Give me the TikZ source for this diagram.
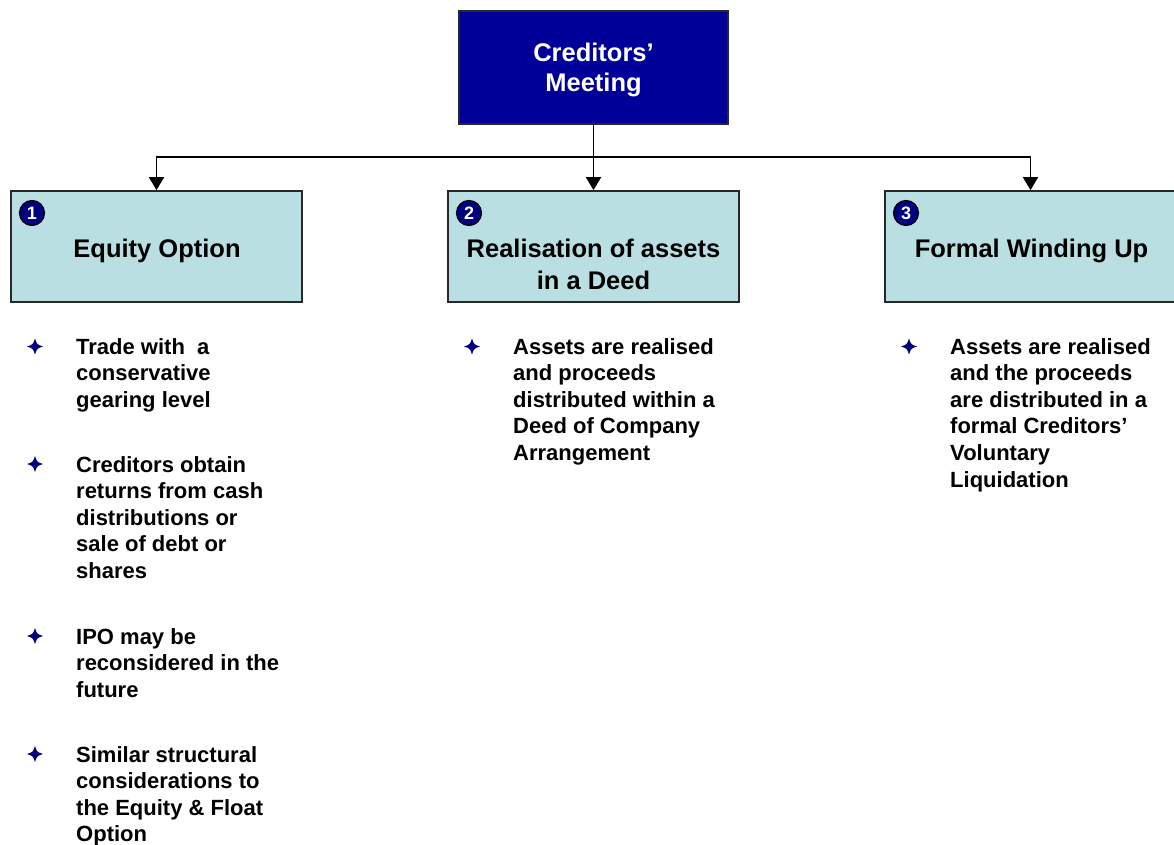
\documentclass[tikz,border=0pt]{standalone}
\usepackage{fontspec}
\setmainfont{Liberation Sans}
\usetikzlibrary{arrows.meta}
\definecolor{headnavy}{RGB}{0,0,153}
\definecolor{dotnavy}{RGB}{0,0,128}
\definecolor{optfill}{RGB}{186,223,227}
\definecolor{edgegray}{RGB}{40,40,40}
\begin{document}
\begin{tikzpicture}[x=1pt,y=-1pt,
  headbox/.style={draw=edgegray, line width=1.7pt, fill=headnavy,
    minimum width=269pt, minimum height=113pt, inner sep=0pt},
  headtext/.style={anchor=base, align=center, inner sep=0pt, text=white,
    font=\bfseries\fontsize{25.5}{30}\selectfont},
  optbox/.style={draw=edgegray, line width=1.7pt, fill=optfill,
    minimum width=291pt, minimum height=111pt, inner sep=0pt},
  numdot/.style={circle, draw=black, line width=1.2pt, fill=dotnavy,
    minimum size=25pt, inner sep=0pt, text=white,
    font=\bfseries\fontsize{18}{18}\selectfont},
  optitle/.style={anchor=base, align=center, inner sep=0pt,
    font=\bfseries\fontsize{25.5}{32}\selectfont},
  point/.style={anchor=base west, align=left, inner sep=0pt,
    font=\bfseries\fontsize{22}{26.6}\selectfont},
  link/.style={draw=black, line width=1.7pt},
  arrowlink/.style={link, -{Triangle[width=15pt,length=13pt]}},
  star4/.pic={\fill[dotnavy] (0,-8) .. controls (2,-2) .. (8,0)
      .. controls (2,2) .. (0,8) .. controls (-2,2) .. (-8,0)
      .. controls (-2,-2) .. (0,-8) -- cycle;}
]
\useasboundingbox (0,0) rectangle (1174,845);

% top box (multi-line labels are placed by the baseline of their last line)
\node[headbox] (head) at (593.5,67.5) {};
\node[headtext] (headlabel) at (593.5,92) {Creditors’\\Meeting};

% option boxes
\node[optbox] (opt1) at (156.5,246.5) {};
\node[optbox] (opt2) at (593.5,246.5) {};
\node[optbox] (opt3) at (1030.5,246.5) {};

\node[numdot] (num1) at (32,213) {1};
\node[numdot] (num2) at (469,213) {2};
\node[numdot] (num3) at (906,213) {3};

\node[optitle] (title1) at (157,257) {Equity Option};
\node[optitle] (title2) at (593.5,289) {Realisation of assets\\in a Deed};
\node[optitle] (title3) at (1031.5,257) {Formal Winding Up};

% connectors
\coordinate (split) at (593.5,157);
\draw[arrowlink] (head.south) -- (opt2.north);
\draw[arrowlink] (split) -| (opt1.north);
\draw[arrowlink] (split) -| (opt3.north);

% bullet points, first column
\pic at (35,346.5) {star4};
\node[point] (p11) at (76,407.2) {Trade with~ a\\conservative\\gearing level};
\pic at (35,464) {star4};
\node[point] (p12) at (76,578.4) {Creditors obtain\\returns from cash\\distributions or\\sale of debt or\\shares};
\pic at (35,636) {star4};
\node[point] (p13) at (76,697.2) {IPO may be\\reconsidered in the\\future};
\pic at (35,754) {star4};
\node[point] (p14) at (76,841.8) {Similar structural\\considerations to\\the Equity \& Float\\Option};

% second column
\pic at (472,346.5) {star4};
\node[point] (p21) at (513,460.4) {Assets are realised\\and proceeds\\distributed within a\\Deed of Company\\Arrangement};

% third column
\pic at (909,346.5) {star4};
\node[point] (p31) at (950,487) {Assets are realised\\and the proceeds\\are distributed in a\\formal Creditors’\\Voluntary\\Liquidation};
\end{tikzpicture}
\end{document}
